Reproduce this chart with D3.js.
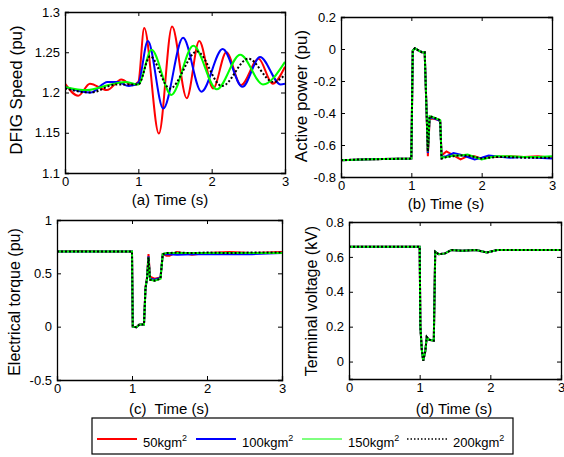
<!DOCTYPE html>
<html lang="en">
<head>
<meta charset="UTF-8">
<title>DFIG inertia comparison</title>
<script src="https://cdn.jsdelivr.net/npm/d3@7"></script>
<style>
  body { margin: 0; background: #fff; }
  text { font-family: "Liberation Sans", Arial, sans-serif; }
</style>
</head>
<body>
<script>
// series names and colours
var names = ["50", "100", "150", "200"];
var colors = ["#ff0000", "#0000ff", "#00ff00", "#000000"];

// (a) DFIG speed, each series has its own time points (peaks / troughs)
var speedT50  = [0, 0.18, 0.34, 0.57, 0.77, 0.92, 1.0, 1.08, 1.28, 1.46, 1.66, 1.83, 2.02, 2.2, 2.4, 2.64, 2.83, 3.0];
var speed50   = [1.211, 1.196, 1.211, 1.203, 1.216, 1.209, 1.213, 1.280, 1.149, 1.282, 1.193, 1.264, 1.205, 1.250, 1.209, 1.242, 1.211, 1.232];
var speedT100 = [0, 0.35, 0.58, 0.72, 0.87, 1.0, 1.13, 1.34, 1.61, 1.86, 2.15, 2.42, 2.66, 2.94, 3.0];
var speed100  = [1.207, 1.200, 1.213, 1.213, 1.208, 1.212, 1.264, 1.180, 1.268, 1.201, 1.254, 1.207, 1.244, 1.210, 1.211];
var speedT150 = [0, 0.3, 0.62, 0.82, 1.0, 1.18, 1.45, 1.75, 2.07, 2.39, 2.7, 3.0];
var speed150  = [1.207, 1.203, 1.210, 1.213, 1.210, 1.253, 1.197, 1.258, 1.204, 1.247, 1.210, 1.238];
var speedT200 = [0, 0.35, 0.7, 1.0, 1.16, 1.43, 1.8, 2.14, 2.5, 2.84, 3.0];
var speed200  = [1.205, 1.200, 1.210, 1.210, 1.245, 1.205, 1.251, 1.208, 1.242, 1.213, 1.222];

// (b) active power
var powerT   = [0, 0.3, 0.6, 1.0, 1.02, 1.05, 1.1, 1.15, 1.19, 1.21, 1.235, 1.26, 1.3, 1.36, 1.41, 1.43, 1.5, 1.6, 1.7, 1.8, 1.9, 2.0, 2.1, 2.2, 2.4, 2.6, 2.8, 3.0];
var power50  = [-0.695, -0.69, -0.688, -0.685, -0.01, 0.005, -0.008, -0.02, -0.02, -0.30, -0.67, -0.44, -0.435, -0.44, -0.45, -0.665, -0.64, -0.665, -0.69, -0.67, -0.67, -0.685, -0.67, -0.675, -0.67, -0.675, -0.67, -0.68];
var power100 = [-0.695, -0.69, -0.688, -0.685, -0.01, 0.005, -0.008, -0.02, -0.02, -0.30, -0.65, -0.43, -0.43, -0.44, -0.45, -0.675, -0.67, -0.65, -0.66, -0.675, -0.69, -0.68, -0.665, -0.67, -0.68, -0.675, -0.68, -0.685];
var power150 = [-0.695, -0.69, -0.688, -0.685, -0.01, 0.005, -0.008, -0.02, -0.02, -0.30, -0.64, -0.42, -0.425, -0.435, -0.445, -0.68, -0.675, -0.665, -0.665, -0.66, -0.675, -0.69, -0.68, -0.67, -0.67, -0.675, -0.675, -0.67];
var power200 = [-0.695, -0.69, -0.688, -0.685, -0.01, 0.005, -0.008, -0.02, -0.02, -0.30, -0.64, -0.42, -0.425, -0.435, -0.445, -0.685, -0.675, -0.67, -0.665, -0.665, -0.675, -0.685, -0.68, -0.675, -0.675, -0.68, -0.68, -0.68];

// (c) electrical torque
var torqueT   = [0, 0.3, 0.6, 1.0, 1.01, 1.06, 1.1, 1.16, 1.18, 1.2, 1.22, 1.24, 1.3, 1.38, 1.41, 1.46, 1.5, 1.6, 1.8, 2.0, 2.3, 2.6, 3.0];
var torque50  = [0.705, 0.71, 0.705, 0.705, 0.0, -0.005, 0.02, 0.02, 0.37, 0.46, 0.68, 0.47, 0.45, 0.46, 0.68, 0.665, 0.665, 0.70, 0.675, 0.69, 0.70, 0.69, 0.70];
var torque100 = [0.705, 0.705, 0.705, 0.705, 0.0, -0.005, 0.02, 0.02, 0.36, 0.45, 0.66, 0.45, 0.44, 0.46, 0.68, 0.68, 0.68, 0.675, 0.68, 0.68, 0.68, 0.68, 0.69];
var torque150 = [0.705, 0.705, 0.705, 0.705, 0.0, -0.005, 0.02, 0.02, 0.36, 0.45, 0.65, 0.44, 0.43, 0.45, 0.68, 0.69, 0.69, 0.69, 0.69, 0.69, 0.69, 0.69, 0.69];
var torque200 = [0.705, 0.705, 0.705, 0.705, 0.0, -0.005, 0.02, 0.02, 0.36, 0.45, 0.65, 0.44, 0.43, 0.45, 0.68, 0.69, 0.69, 0.695, 0.69, 0.695, 0.69, 0.695, 0.695];

// (d) terminal voltage
var voltT   = [0, 0.5, 1.0, 1.01, 1.03, 1.05, 1.08, 1.1, 1.13, 1.2, 1.22, 1.27, 1.36, 1.45, 1.6, 1.8, 1.95, 2.1, 2.5, 3.0];
var volt50  = [0.658, 0.658, 0.658, 0.20, 0.07, 0.005, 0.06, 0.14, 0.125, 0.12, 0.63, 0.615, 0.62, 0.64, 0.635, 0.64, 0.625, 0.64, 0.64, 0.64];
var volt100 = [0.658, 0.658, 0.658, 0.20, 0.07, 0.005, 0.06, 0.14, 0.125, 0.12, 0.63, 0.615, 0.62, 0.64, 0.635, 0.64, 0.625, 0.64, 0.64, 0.64];
var volt150 = [0.658, 0.658, 0.658, 0.20, 0.07, 0.005, 0.06, 0.14, 0.125, 0.12, 0.63, 0.615, 0.62, 0.64, 0.635, 0.64, 0.625, 0.64, 0.64, 0.64];
var volt200 = [0.658, 0.658, 0.658, 0.20, 0.07, 0.005, 0.06, 0.14, 0.125, 0.12, 0.63, 0.615, 0.62, 0.64, 0.635, 0.64, 0.625, 0.64, 0.64, 0.64];

var timeTicks = [0, 1, 2, 3];

var W = 564, H = 457;
var svg = d3.select("body").append("svg").attr("width", W).attr("height", H);

function zip(t, v) { return t.map(function(d, i) { return [d, v[i]]; }); }

function panel(o) {
  var x = d3.scaleLinear().domain([0, 3]).range([o.x0, o.x1]);
  var y = d3.scaleLinear().domain(o.dom).range([o.y1, o.y0]);
  var g = svg.append("g");
  var id = "clip" + o.key;
  svg.append("clipPath").attr("id", id).append("rect")
    .attr("x", o.x0).attr("y", o.y0).attr("width", o.x1 - o.x0).attr("height", o.y1 - o.y0);

  var line = d3.line().x(function(d) { return x(d[0]); }).y(function(d) { return y(d[1]); })
    .curve(o.curve || d3.curveLinear);
  var lg = g.append("g").attr("clip-path", "url(#" + id + ")");
  o.series.forEach(function(s, i) {
    lg.append("path").datum(s)
      .attr("d", line)
      .attr("fill", "none")
      .attr("stroke", colors[i])
      .attr("stroke-width", 2)
      .attr("stroke-dasharray", i == 3 ? "2,2" : null);
  });

  // matlab style box, ticks pointing inward on all sides
  var tl = 4;
  g.append("g").attr("transform", "translate(0," + o.y1 + ")")
    .call(d3.axisBottom(x).tickValues(timeTicks).tickSize(-tl).tickPadding(4).tickFormat(d3.format("d")));
  g.append("g").attr("transform", "translate(0," + o.y0 + ")")
    .call(d3.axisTop(x).tickValues(timeTicks).tickSize(-tl).tickFormat(""));
  g.append("g").attr("transform", "translate(" + o.x0 + ",0)")
    .call(d3.axisLeft(y).tickValues(o.ticks).tickSize(-tl).tickPadding(5).tickFormat(function(d) { return String(+d.toFixed(2)); }));
  g.append("g").attr("transform", "translate(" + o.x1 + ",0)")
    .call(d3.axisRight(y).tickValues(o.ticks).tickSize(-tl).tickFormat(""));
  g.selectAll(".domain").attr("stroke", "#000").attr("stroke-width", 1.3);
  g.selectAll(".tick line").attr("stroke", "#000");
  g.selectAll(".tick text").attr("font-size", 13).attr("fill", "#000")
    .style("font-family", "'Liberation Sans', Arial, sans-serif");

  g.append("text")
    .attr("transform", "translate(" + o.yl[0] + "," + o.yl[1] + ") rotate(-90)")
    .attr("text-anchor", "middle").attr("font-size", o.ylSize).text(o.ylabel);
  g.append("text")
    .attr("x", o.xl[0]).attr("y", o.xl[1])
    .attr("text-anchor", "middle").attr("font-size", 15)
    .attr("xml:space", "preserve").text(o.xlabel);
}

panel({ key: "a", x0: 65, x1: 285, y0: 12, y1: 173, dom: [1.1, 1.3],
  ticks: [1.1, 1.15, 1.2, 1.25, 1.3], curve: d3.curveMonotoneX,
  series: [zip(speedT50, speed50), zip(speedT100, speed100), zip(speedT150, speed150), zip(speedT200, speed200)],
  ylabel: "DFIG Speed (pu)", yl: [22, 90], ylSize: 17,
  xlabel: "(a) Time (s)", xl: [170, 205] });

panel({ key: "b", x0: 341, x1: 552, y0: 17, y1: 177, dom: [-0.8, 0.2],
  ticks: [-0.8, -0.6, -0.4, -0.2, 0, 0.2],
  series: [zip(powerT, power50), zip(powerT, power100), zip(powerT, power150), zip(powerT, power200)],
  ylabel: "Active power (pu)", yl: [307, 96], ylSize: 17,
  xlabel: "(b) Time (s)", xl: [446, 209] });

panel({ key: "c", x0: 57, x1: 282, y0: 220, y1: 380, dom: [-0.5, 1],
  ticks: [-0.5, 0, 0.5, 1],
  series: [zip(torqueT, torque50), zip(torqueT, torque100), zip(torqueT, torque150), zip(torqueT, torque200)],
  ylabel: "Electrical torque (pu)", yl: [20, 302], ylSize: 16,
  xlabel: "(c)  Time (s)", xl: [169, 414] });

panel({ key: "d", x0: 349, x1: 561, y0: 222, y1: 379, dom: [-0.1, 0.8],
  ticks: [0, 0.2, 0.4, 0.6, 0.8],
  series: [zip(voltT, volt50), zip(voltT, volt100), zip(voltT, volt150), zip(voltT, volt200)],
  ylabel: "Terminal voltage (kV)", yl: [317, 301], ylSize: 16,
  xlabel: "(d) Time (s)", xl: [454, 414] });

// legend
var leg = svg.append("g");
leg.append("rect").attr("x", 92).attr("y", 418).attr("width", 421).attr("height", 36)
  .attr("fill", "#fff").attr("stroke", "#000").attr("stroke-width", 1.2);
var legX = [97, 196, 302, 407];
names.forEach(function(n, i) {
  leg.append("line").attr("x1", legX[i]).attr("x2", legX[i] + 40)
    .attr("y1", 439).attr("y2", 439)
    .attr("stroke", colors[i])
    .attr("stroke-width", i == 2 ? 1 : (i == 3 ? 1.5 : 2))
    .attr("stroke-dasharray", i == 3 ? "1.5,2" : null);
  var t = leg.append("text").attr("x", legX[i] + 46).attr("y", 447).attr("font-size", 13);
  t.append("tspan").text(n + "kgm");
  t.append("tspan").attr("dy", -6).attr("font-size", 9).text("2");
});
</script>
</body>
</html>
